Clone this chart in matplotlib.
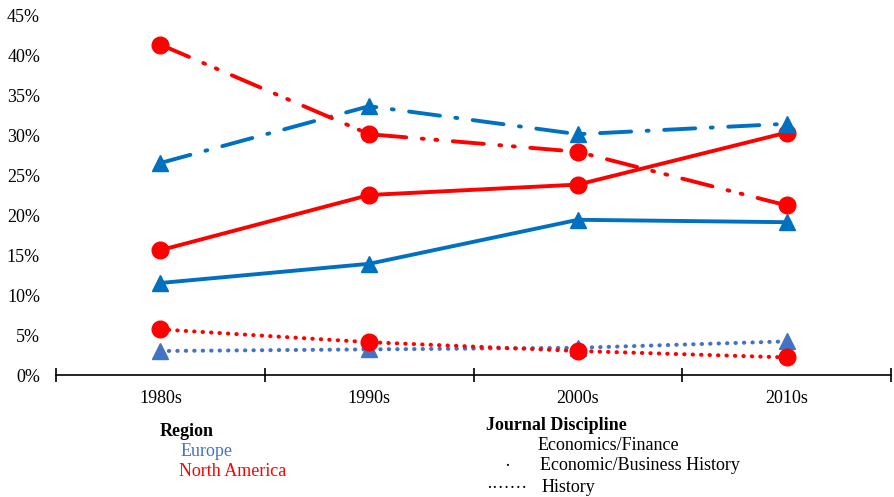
import matplotlib

matplotlib.use("Agg")
import matplotlib.pyplot as plt
from matplotlib.ticker import FuncFormatter, FixedLocator

plt.rcParams["font.family"] = ["Liberation Serif", "DejaVu Serif"]

decades = ["1980s", "1990s", "2000s", "2010s"]

# values in percent
eu_econ_fin = [11.5, 13.9, 19.4, 19.1]
na_econ_fin = [15.6, 22.5, 23.8, 30.3]
eu_bus_hist = [26.5, 33.6, 30.1, 31.4]
na_bus_hist = [41.3, 30.1, 27.9, 21.2]
eu_history = [3.0, 3.2, 3.4, 4.2]
na_history = [5.7, 4.1, 3.0, 2.2]

RED = "#FF0000"
BLUE = "#0070C0"
LIGHT_BLUE = "#4472C4"
FS = 13

fig = plt.figure(figsize=(8.94, 4.97), dpi=100)
ax = fig.add_axes([56 / 894, 1 - 375 / 497, (891 - 56) / 894, (375 - 15) / 497])

x = list(range(len(decades)))

# solid: Economics/Finance
ax.plot(x, eu_econ_fin, color=BLUE, lw=2.8, marker="^", ms=11, solid_capstyle="round")
ax.plot(x, na_econ_fin, color=RED, lw=2.8, marker="o", ms=12, solid_capstyle="round")

# dash-dot: Economic/Business History
ax.plot(x, eu_bus_hist, color=BLUE, lw=2.8, marker="^", ms=11,
        linestyle=(0, (8, 4, 0.5, 4)), dash_capstyle="round")
ax.plot(x, na_bus_hist, color=RED, lw=2.8, marker="o", ms=12,
        linestyle=(0, (8, 4, 0.5, 3, 0.5, 4)), dash_capstyle="round")

# dotted: History
ax.plot(x, eu_history, color=LIGHT_BLUE, lw=2.9, marker="^", ms=11,
        linestyle=(0, (0.1, 2.0)), dash_capstyle="round")
ax.plot(x, na_history, color=RED, lw=2.9, marker="o", ms=12,
        linestyle=(0, (0.1, 2.0)), dash_capstyle="round")

ax.set_xlim(-0.5, 3.5)
ax.set_ylim(0, 45)
ax.set_xticks(x)
ax.set_xticklabels(decades)
ax.xaxis.set_minor_locator(FixedLocator([-0.5, 0.5, 1.5, 2.5, 3.5]))
ax.tick_params(axis="x", which="major", length=0, pad=11, labelsize=FS)
ax.tick_params(axis="x", which="minor", length=10, width=1.2, direction="inout")
ax.set_yticks(range(0, 46, 5))
ax.yaxis.set_major_formatter(FuncFormatter(lambda v, _: f"{int(v)}%"))
ax.tick_params(axis="y", length=0, pad=11.5, labelsize=FS)
for side in ["top", "right", "left"]:
    ax.spines[side].set_visible(False)
ax.spines["bottom"].set_linewidth(1.2)
for line in ax.get_lines():
    line.set_clip_on(False)

# legend drawn as text, as in the original
def fx(px):
    return px / 894


def fy(py):
    return 1 - py / 497


fig.text(fx(160), fy(431), "Region", fontsize=FS, fontweight="bold", va="center")
fig.text(fx(181), fy(451), "Europe", fontsize=FS, color=LIGHT_BLUE, va="center")
fig.text(fx(179), fy(472), "North America", fontsize=FS, color=RED, va="center")

fig.text(fx(486), fy(425), "Journal Discipline", fontsize=FS, fontweight="bold", va="center")
fig.text(fx(538), fy(445), "Economics/Finance", fontsize=FS, va="center")
fig.text(fx(504), fy(466), "·", fontsize=FS, va="center")
fig.text(fx(540), fy(466), "Economic/Business History", fontsize=FS, va="center")
fig.text(fx(486), fy(488), "·······", fontsize=FS, va="center")
fig.text(fx(542), fy(488), "History", fontsize=FS, va="center")

fig.savefig("out.png", dpi=100)
